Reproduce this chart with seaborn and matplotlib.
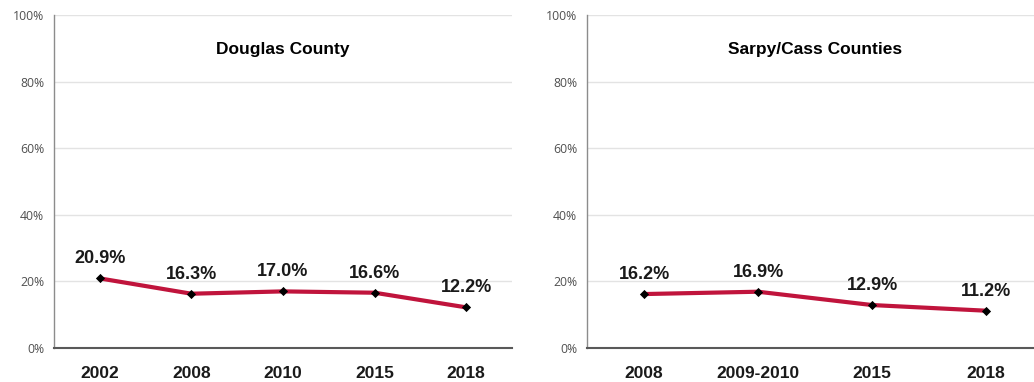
import matplotlib
matplotlib.use("Agg")
import matplotlib.pyplot as plt
import seaborn as sns
import pandas as pd
from matplotlib.ticker import FuncFormatter

sns.set_style("white")
plt.rcParams["font.family"] = ["Liberation Sans", "DejaVu Sans"]

douglas_years = ["2002", "2008", "2010", "2015", "2018"]
douglas_values = [20.9, 16.3, 17.0, 16.6, 12.2]

sarpy_years = ["2008", "2009-2010", "2015", "2018"]
sarpy_values = [16.2, 16.9, 12.9, 11.2]

LINE_COLOR = "#C0143C"
NARROW = ["Liberation Sans Narrow", "Liberation Sans", "DejaVu Sans"]
TICK_FONT = ["Open Sans", "DejaVu Sans"]

W, H = 1034, 382
fig = plt.figure(figsize=(W / 100, H / 100), dpi=100)


def panel(rect_px, title, years, values):
    x0, y0, x1, y1 = rect_px
    ax = fig.add_axes([x0 / W, 1 - y1 / H, (x1 - x0) / W, (y1 - y0) / H])
    df = pd.DataFrame({"year": years, "value": values})
    sns.lineplot(data=df, x="year", y="value", ax=ax, color=LINE_COLOR,
                 linewidth=3, sort=False, zorder=3)
    sns.scatterplot(data=df, x="year", y="value", ax=ax, color="black",
                    marker="D", s=22, zorder=4, edgecolor="black", linewidth=0)
    ax.set_xlim(-0.5, len(years) - 0.5)
    ax.set_ylim(0, 100)
    ax.set_yticks(range(0, 101, 20))
    ax.yaxis.set_major_formatter(FuncFormatter(lambda v, _: f"{v:.0f}%"))
    ax.grid(axis="y", color="#E3E3E3", linewidth=1)
    ax.set_axisbelow(True)
    ax.set_xlabel("")
    ax.set_ylabel("")
    for s in ["top", "right"]:
        ax.spines[s].set_visible(False)
    ax.spines["left"].set_color("#8C8C8C")
    ax.spines["left"].set_linewidth(1)
    ax.spines["bottom"].set_color("#595959")
    ax.spines["bottom"].set_linewidth(1.5)
    ax.tick_params(axis="y", length=4, width=0.8, color="#8C8C8C",
                   labelsize=8.8, labelcolor="#505050", pad=3)
    for lbl in ax.get_yticklabels():
        lbl.set_fontfamily(TICK_FONT)
    ax.tick_params(axis="x", length=0, pad=13)
    for lbl in ax.get_xticklabels():
        lbl.set_fontfamily(NARROW)
        lbl.set_fontweight("bold")
        lbl.set_fontsize(12.5)
        lbl.set_color("#1A1A1A")
    for i, v in enumerate(values):
        ax.annotate(f"{v:.1f}%", (i, v), xytext=(0, 8), textcoords="offset points",
                    ha="center", va="bottom", fontsize=13, fontweight="bold",
                    family=NARROW, color="#1A1A1A")
    ax.text(0.5, 0.895, title, transform=ax.transAxes, ha="center", va="center",
            fontsize=12.5, fontweight="bold", color="black")
    return ax


panel((54, 15, 512, 348), "Douglas County", douglas_years, douglas_values)
panel((587, 15, 1043, 348), "Sarpy/Cass Counties", sarpy_years, sarpy_values)

fig.savefig("out.png", dpi=100)
